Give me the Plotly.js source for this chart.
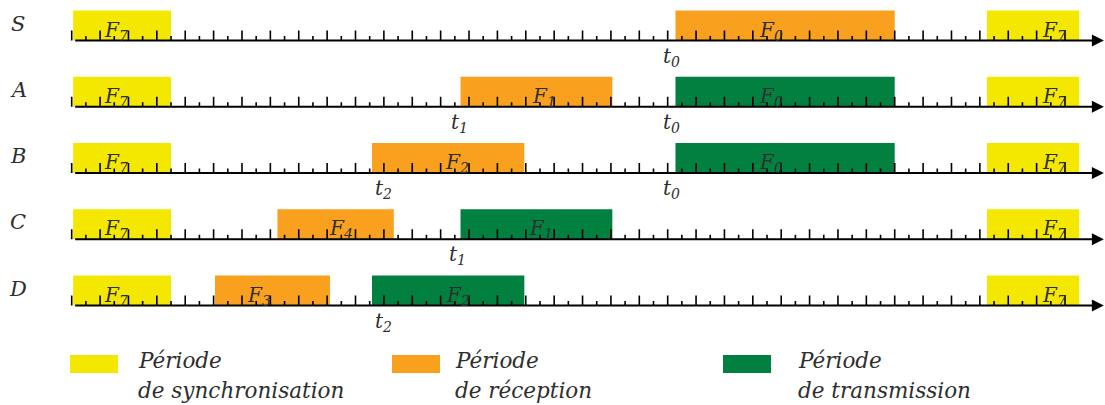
<!DOCTYPE html>
<html><head><meta charset="utf-8">
<script src="https://cdn.plot.ly/plotly-3.0.1.min.js"></script>
<style>html,body{margin:0;padding:0;background:#fff}#chart{width:1105px;height:405px}</style>
</head><body><div id="chart"></div>
<script>
// ---- data ----
const rowNames = ['S', 'A', 'B', 'C', 'D'];
const lastTick = 70;

const syncRow   = [0, 0, 1, 1, 2, 2, 3, 3, 4, 4];
const syncStart = [0.1, 64.5, 0.1, 64.5, 0.1, 64.5, 0.1, 64.5, 0.1, 64.5];
const syncEnd   = [7.0, 71.0, 7.0, 71.0, 7.0, 71.0, 7.0, 71.0, 7.0, 71.0];
const syncLabel = ['F<sub>7</sub>','F<sub>7</sub>','F<sub>7</sub>','F<sub>7</sub>','F<sub>7</sub>','F<sub>7</sub>','F<sub>7</sub>','F<sub>7</sub>','F<sub>7</sub>','F<sub>7</sub>'];
const syncLabelX = [3.1, 69.2, 3.1, 69.2, 3.1, 69.2, 3.1, 69.2, 3.1, 69.2];

const recRow   = [0, 1, 2, 3, 4];
const recStart = [42.55, 27.4, 21.16, 14.5, 10.1];
const recEnd   = [58.0, 38.1, 31.9, 22.7, 18.2];
const recLabel = ['F<sub>0</sub>', 'F<sub>1</sub>', 'F<sub>2</sub>', 'F<sub>4</sub>', 'F<sub>3</sub>'];
const recLabelX = [49.3, 33.3, 27.15, 19.0, 13.2];

const txRow   = [1, 2, 3, 4];
const txStart = [42.55, 42.55, 27.4, 21.16];
const txEnd   = [58.0, 58.0, 38.1, 31.9];
const txLabel = ['F<sub>0</sub>', 'F<sub>0</sub>', 'F<sub>1</sub>', 'F<sub>2</sub>'];
const txLabelX = [49.3, 49.3, 33.1, 27.2];

const tRow  = [0, 1, 1, 2, 2, 3, 4];
const tPos  = [42.3, 27.3, 42.3, 22.0, 42.3, 27.2, 22.0];
const tText = ['t<sub>0</sub>','t<sub>1</sub>','t<sub>0</sub>','t<sub>2</sub>','t<sub>0</sub>','t<sub>1</sub>','t<sub>2</sub>'];

const legendLine1 = ['Période', 'Période', 'Période'];
const legendLine2 = ['de synchronisation', 'de réception', 'de transmission'];
const legendColors = ['#f5e800', '#f9a11e', '#028040'];

// ---- geometry (pixels -> axis units) ----
const W = 1105, H = 405;
const X0 = 71.7, DX = 14.19;      // pixel of tick 0, pixels per tick
const Y0 = 40.5, DY = 66.25;      // pixel of row 0 axis, pixels per row
const xr = [(0 - X0) / DX, (W - X0) / DX];
const yr = [(H - Y0) / DY, (0 - Y0) / DY];
const py = p => p / DY;           // pixel height -> y units
const BAR_H = py(30), TALL = py(10), SHORT = py(4.5);
const FAM = "'DejaVu Serif', 'Liberation Serif', serif";
const font = {family: FAM, size: 20, color: '#2e2e2e', style: 'italic'};
const legFont = Object.assign({}, font, {size: 21.5});

const traces = [];
function barTrace(rows, st, en, color) {
  return {
    type: 'bar', orientation: 'h',
    y: rows.map(r => r - BAR_H / 2), base: st, x: en.map((e, i) => e - st[i]),
    width: BAR_H, marker: {color: color, line: {width: 0}},
    hoverinfo: 'skip', showlegend: false
  };
}
traces.push(barTrace(syncRow, syncStart, syncEnd, legendColors[0]));
traces.push(barTrace(recRow, recStart, recEnd, legendColors[1]));
traces.push(barTrace(txRow, txStart, txEnd, legendColors[2]));

// tick marks
const tx = [], ty = [];
rowNames.forEach((_, r) => {
  for (let n = 0; n <= lastTick; n++) {
    tx.push(n, n, null);
    ty.push(r, r - (n % 2 === 0 ? TALL : SHORT), null);
  }
});
traces.push({type: 'scatter', mode: 'lines', x: tx, y: ty, line: {color: '#000', width: 1.6},
  hoverinfo: 'skip', showlegend: false, cliponaxis: false});

const ann = [];
// axis arrows
rowNames.forEach((name, r) => {
  ann.push({x: xr[1] - 0.08, y: r, ax: 0, ay: r, xref: 'x', yref: 'y', axref: 'x', ayref: 'y',
    text: ' ', showarrow: true, arrowhead: 2, arrowsize: 1.2, arrowwidth: 2, arrowcolor: '#000', standoff: 0, startstandoff: 0});
  ann.push({x: (18 - X0) / DX, y: r, xref: 'x', yref: 'y', text: name, showarrow: false,
    xanchor: 'center', yanchor: 'middle', yshift: 17, font: Object.assign({}, font, {size: 21})});
});
function frameLabels(rows, xs, labels) {
  rows.forEach((r, i) => ann.push({x: xs[i], y: r, xref: 'x', yref: 'y', text: labels[i], showarrow: false,
    xanchor: 'center', yanchor: 'middle', yshift: 10, font: font}));
}
frameLabels(syncRow, syncLabelX, syncLabel);
frameLabels(recRow, recLabelX, recLabel);
frameLabels(txRow, txLabelX, txLabel);
tRow.forEach((r, i) => ann.push({x: tPos[i], y: r, xref: 'x', yref: 'y', text: tText[i], showarrow: false,
  xanchor: 'center', yanchor: 'top', yshift: -1, font: font}));

// legend
const legRectX = [70, 392, 723], legTextX = [136, 453, 796];
const shapes = [];
legendLine1.forEach((l1, i) => {
  shapes.push({type: 'rect', xref: 'paper', yref: 'paper', x0: legRectX[i] / W, x1: (legRectX[i] + 48) / W,
    y0: 1 - 373 / H, y1: 1 - 355 / H, fillcolor: legendColors[i], line: {width: 0}});
  ann.push({x: legTextX[i] / W, y: 1 - 360 / H, xref: 'paper', yref: 'paper', text: l1, showarrow: false,
    xanchor: 'left', yanchor: 'middle', align: 'left', font: legFont});
  ann.push({x: legTextX[i] / W, y: 1 - 390 / H, xref: 'paper', yref: 'paper', text: legendLine2[i], showarrow: false,
    xanchor: 'left', yanchor: 'middle', align: 'left', font: legFont});
});

const layout = {
  width: W, height: H, margin: {l: 0, r: 0, t: 0, b: 0},
  paper_bgcolor: '#fff', plot_bgcolor: '#fff', barmode: 'overlay', showlegend: false,
  font: {family: FAM},
  xaxis: {range: xr, visible: false, fixedrange: true},
  yaxis: {range: yr, visible: false, fixedrange: true},
  annotations: ann, shapes: shapes
};
Plotly.newPlot('chart', traces, layout, {staticPlot: true, displayModeBar: false});
</script></body></html>
